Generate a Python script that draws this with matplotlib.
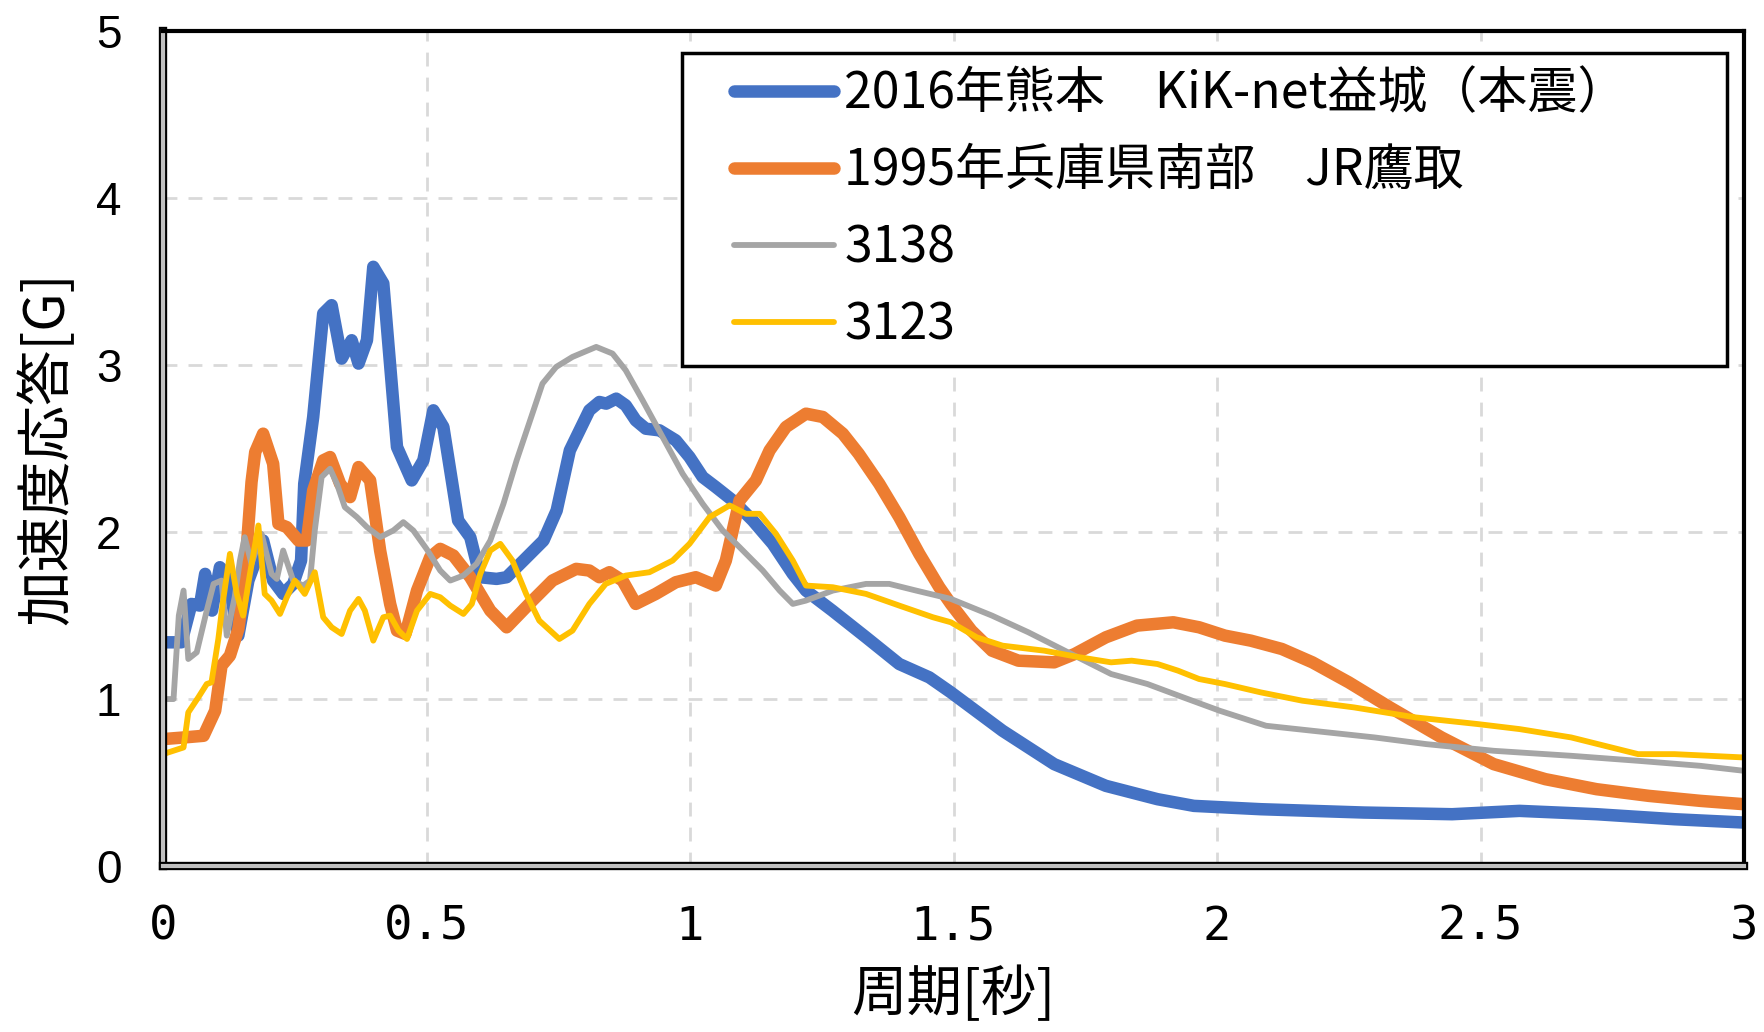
import matplotlib
matplotlib.use("Agg")
import matplotlib.pyplot as plt
import matplotlib.patheffects as pe
from matplotlib.lines import Line2D
from matplotlib.legend_handler import HandlerLine2D

plt.rcParams['font.family'] = ['Noto Sans CJK JP', 'DejaVu Sans']

# 2016 Kumamoto, KiK-net Mashiki (main shock)
kumamoto_t = [0.0, 0.035, 0.054, 0.07, 0.08, 0.093, 0.108, 0.122, 0.143, 0.162, 0.19, 0.209, 0.228, 0.247,
              0.262, 0.268, 0.285, 0.304, 0.32, 0.339, 0.358, 0.371, 0.387, 0.399, 0.418, 0.444, 0.472, 0.494,
              0.513, 0.532, 0.56, 0.583, 0.602, 0.633, 0.652, 0.684, 0.722, 0.747, 0.772, 0.809, 0.828, 0.841,
              0.86, 0.878, 0.897, 0.916, 0.942, 0.973, 0.999, 1.024, 1.049, 1.081, 1.119, 1.157, 1.195, 1.22,
              1.27, 1.334, 1.397, 1.454, 1.495, 1.593, 1.691, 1.789, 1.887, 1.956, 2.083, 2.279, 2.446, 2.574,
              2.72, 2.868, 3.0]
kumamoto_g = [1.34, 1.34, 1.57, 1.56, 1.75, 1.53, 1.79, 1.74, 1.38, 1.71, 1.95, 1.71, 1.63, 1.69,
              1.83, 2.29, 2.69, 3.31, 3.36, 3.04, 3.15, 3.01, 3.15, 3.59, 3.49, 2.51, 2.31, 2.43,
              2.73, 2.63, 2.07, 1.97, 1.73, 1.72, 1.73, 1.83, 1.95, 2.13, 2.49, 2.73, 2.78, 2.77,
              2.80, 2.76, 2.67, 2.62, 2.61, 2.55, 2.45, 2.33, 2.27, 2.19, 2.07, 1.93, 1.75, 1.65,
              1.53, 1.37, 1.21, 1.13, 1.04, 0.81, 0.61, 0.48, 0.40, 0.36, 0.34, 0.32, 0.31, 0.33,
              0.31, 0.28, 0.26]

# 1995 Hyogo-ken Nanbu, JR Takatori
hyogo_t = [0.0, 0.04, 0.077, 0.099, 0.111, 0.127, 0.143, 0.152, 0.16, 0.168, 0.175, 0.19, 0.209, 0.219,
           0.235, 0.257, 0.273, 0.285, 0.304, 0.317, 0.336, 0.355, 0.371, 0.393, 0.412, 0.431, 0.444, 0.46,
           0.482, 0.507, 0.526, 0.551, 0.583, 0.621, 0.652, 0.701, 0.739, 0.784, 0.809, 0.828, 0.847, 0.872,
           0.897, 0.916, 0.935, 0.973, 1.011, 1.049, 1.068, 1.094, 1.125, 1.151, 1.182, 1.22, 1.252, 1.29,
           1.32, 1.359, 1.397, 1.435, 1.473, 1.495, 1.534, 1.573, 1.623, 1.691, 1.73, 1.789, 1.848, 1.917,
           1.966, 2.015, 2.064, 2.123, 2.181, 2.25, 2.328, 2.426, 2.525, 2.623, 2.72, 2.819, 2.917, 3.0]
hyogo_g = [0.76, 0.77, 0.78, 0.93, 1.2, 1.26, 1.42, 1.63, 1.95, 2.3, 2.48, 2.59, 2.41, 2.05,
           2.03, 1.95, 1.95, 2.25, 2.43, 2.45, 2.29, 2.21, 2.39, 2.31, 1.89, 1.57, 1.41, 1.39,
           1.65, 1.85, 1.90, 1.86, 1.73, 1.53, 1.43, 1.59, 1.71, 1.78, 1.77, 1.73, 1.76, 1.71,
           1.57, 1.60, 1.63, 1.70, 1.73, 1.68, 1.83, 2.19, 2.31, 2.49, 2.63, 2.71, 2.69, 2.59,
           2.47, 2.29, 2.09, 1.87, 1.67, 1.57, 1.41, 1.29, 1.23, 1.22, 1.27, 1.37, 1.44, 1.46,
           1.43, 1.38, 1.35, 1.30, 1.22, 1.10, 0.95, 0.77, 0.61, 0.52, 0.46, 0.42, 0.39, 0.37]

# 3138
w3138_t = [0.0, 0.02, 0.03, 0.039, 0.048, 0.064, 0.083, 0.096, 0.111, 0.121, 0.136, 0.146, 0.155, 0.168,
           0.187, 0.206, 0.216, 0.228, 0.247, 0.266, 0.279, 0.288, 0.301, 0.317, 0.33, 0.345, 0.368, 0.387,
           0.412, 0.437, 0.456, 0.475, 0.5, 0.526, 0.545, 0.57, 0.595, 0.621, 0.646, 0.671, 0.703, 0.72,
           0.746, 0.777, 0.822, 0.853, 0.878, 0.91, 0.948, 0.986, 1.024, 1.062, 1.094, 1.138, 1.17, 1.195,
           1.22, 1.271, 1.334, 1.378, 1.429, 1.495, 1.573, 1.642, 1.711, 1.799, 1.868, 1.936, 2.005, 2.093,
           2.181, 2.299, 2.397, 2.525, 2.672, 2.799, 2.917, 3.0]
w3138_g = [1.0, 1.0, 1.5, 1.65, 1.24, 1.28, 1.53, 1.69, 1.71, 1.38, 1.61, 1.83, 1.97, 1.81,
           1.99, 1.75, 1.72, 1.89, 1.71, 1.68, 1.71, 2.01, 2.33, 2.38, 2.29, 2.15, 2.09, 2.03,
           1.97, 2.01, 2.06, 2.01, 1.90, 1.77, 1.71, 1.74, 1.81, 1.95, 2.17, 2.43, 2.73, 2.89,
           2.99, 3.05, 3.11, 3.07, 2.97, 2.79, 2.57, 2.35, 2.17, 2.01, 1.91, 1.77, 1.65, 1.57,
           1.59, 1.65, 1.69, 1.69, 1.65, 1.60, 1.50, 1.40, 1.29, 1.15, 1.09, 1.01, 0.93, 0.84,
           0.81, 0.77, 0.73, 0.69, 0.66, 0.63, 0.60, 0.57]

# 3123
w3123_t = [0.0, 0.039, 0.048, 0.067, 0.083, 0.092, 0.105, 0.114, 0.127, 0.14, 0.152, 0.165, 0.181, 0.193,
           0.206, 0.222, 0.235, 0.25, 0.269, 0.288, 0.304, 0.32, 0.339, 0.355, 0.371, 0.383, 0.399, 0.418,
           0.431, 0.447, 0.463, 0.482, 0.507, 0.526, 0.545, 0.57, 0.586, 0.602, 0.621, 0.64, 0.663, 0.689,
           0.714, 0.752, 0.777, 0.809, 0.84, 0.878, 0.923, 0.967, 0.999, 1.037, 1.075, 1.106, 1.132, 1.163,
           1.195, 1.22, 1.271, 1.334, 1.397, 1.461, 1.495, 1.544, 1.593, 1.672, 1.74, 1.799, 1.838, 1.887,
           1.926, 1.966, 2.015, 2.083, 2.162, 2.26, 2.377, 2.495, 2.574, 2.672, 2.799, 2.868, 3.0]
w3123_g = [0.67, 0.71, 0.92, 1.01, 1.09, 1.10, 1.36, 1.59, 1.87, 1.63, 1.50, 1.75, 2.04, 1.63,
           1.59, 1.51, 1.61, 1.71, 1.63, 1.76, 1.49, 1.43, 1.39, 1.53, 1.60, 1.53, 1.35, 1.49,
           1.50, 1.41, 1.36, 1.53, 1.63, 1.61, 1.56, 1.51, 1.57, 1.75, 1.89, 1.93, 1.83, 1.63,
           1.47, 1.36, 1.41, 1.57, 1.69, 1.74, 1.76, 1.83, 1.93, 2.09, 2.16, 2.11, 2.11, 1.99,
           1.83, 1.68, 1.67, 1.63, 1.56, 1.49, 1.46, 1.37, 1.32, 1.29, 1.25, 1.22, 1.23, 1.21,
           1.17, 1.12, 1.09, 1.04, 0.99, 0.95, 0.89, 0.85, 0.82, 0.77, 0.67, 0.67, 0.65]

labels = ['2016年熊本　KiK-net益城（本震）', '1995年兵庫県南部　JR鷹取', '3138', '3123']
colors = ['#4472C4', '#ED7D31', '#A5A5A5', '#FFC000']
widths = [9.0, 9.0, 4.2, 4.2]

x_ticks = [0, 0.5, 1, 1.5, 2, 2.5, 3]
x_ticklabels = ['0', '0.5', '1', '1.5', '2', '2.5', '3']
y_ticks = [0, 1, 2, 3, 4, 5]

fig = plt.figure(figsize=(17.64, 10.32), dpi=100)
ax = fig.add_axes([0.0924, 0.1609, 0.8963, 0.8086])

series = [(kumamoto_t, kumamoto_g), (hyogo_t, hyogo_g), (w3138_t, w3138_g), (w3123_t, w3123_g)]
for (t, g), lab, c, w in zip(series, labels, colors, widths):
    ax.plot(t, g, color=c, lw=w, label=lab, solid_joinstyle='round', solid_capstyle='round')

ax.set_xlim(0, 3)
ax.set_ylim(0, 5)
ax.set_xticks(x_ticks)
ax.set_xticklabels(x_ticklabels, family='DejaVu Sans Mono', fontsize=34)
ax.set_yticks(y_ticks)
ax.set_yticklabels([str(v) for v in y_ticks], family='Liberation Sans', fontsize=33)
ax.tick_params(axis='x', length=0, pad=28)
ax.tick_params(axis='y', length=0, pad=30)
ax.grid(True, color='#d9d9d9', lw=2, linestyle=(0, (5, 4)))
ax.set_axisbelow(True)

for side in ['top', 'right']:
    ax.spines[side].set_color('black')
    ax.spines[side].set_linewidth(3)
for side in ['left', 'bottom']:
    ax.spines[side].set_color('#c0c0c0')
    ax.spines[side].set_linewidth(3)
    ax.spines[side].set_path_effects([pe.Stroke(linewidth=6, foreground='black'), pe.Normal()])

ax.set_xlabel('周期[秒]', fontsize=40, labelpad=12)
ax.set_ylabel('加速度応答[G]', fontsize=40, labelpad=14)

# shorter handle with a gap before it, like the Excel legend
leg = ax.legend(loc='upper left', bbox_to_anchor=(0.328, 0.974, 0.661, 0.0), mode='expand',
                borderaxespad=0, fontsize=36, frameon=True, fancybox=False, handlelength=2.75,
                handletextpad=0.2, labelspacing=0.5, borderpad=0.3,
                handler_map={Line2D: HandlerLine2D(xpad=0.75)})
leg.get_frame().set_edgecolor('black')
leg.get_frame().set_linewidth(2.5)
leg.get_frame().set_alpha(1)

fig.savefig('out.png', dpi=100)
